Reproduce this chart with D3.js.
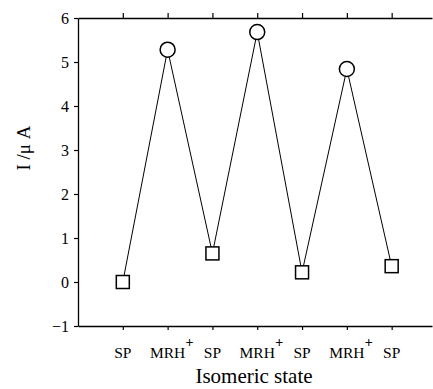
<!DOCTYPE html>
<html>
<head>
<meta charset="utf-8">
<script src="https://cdn.jsdelivr.net/npm/d3@7"></script>
<style>
body { margin: 0; background: #fff; }
svg { display: block; }
svg text { font-family: "Liberation Serif", "Times New Roman", serif; }
</style>
</head>
<body>
<div class="graphic"></div>
<script>
// isomeric states along x, and the measured current
var states = ["SP", "MRH+", "SP", "MRH+", "SP", "MRH+", "SP"]
var current = [0.0, 5.28, 0.65, 5.68, 0.22, 4.84, 0.36]
var yTicks = [-1, 0, 1, 2, 3, 4, 5, 6]

var svg_width = 433, svg_height = 389

var svg = d3.select(".graphic")
	.append("svg")
	.attr("width", svg_width)
	.attr("height", svg_height)

var x = d3.scaleLinear().domain([-1, 6.9]).range([78, 432])
var y = d3.scaleLinear().domain([-1, 6]).range([326, 18])

var idx = d3.range(states.length)

// left axis
var yAxis = svg.append("g")
	.attr("transform", "translate(78,0)")
	.call(d3.axisLeft(y).tickValues(yTicks).tickFormat(d3.format("d"))
		.tickSize(4).tickSizeOuter(0).tickPadding(5))
yAxis.attr("font-family", null)
yAxis.selectAll("text")
	.style("font-size", "16px")
	.attr("fill", "#000")

// bottom axis, labels drawn separately
svg.append("g")
	.attr("transform", "translate(0,326)")
	.call(d3.axisBottom(x).tickValues(idx).tickSize(4).tickSizeOuter(0).tickFormat(""))

// top axis
svg.append("g")
	.attr("transform", "translate(0,18)")
	.call(d3.axisTop(x).tickValues(idx).tickSize(5).tickSizeOuter(0).tickFormat(""))

svg.selectAll(".domain").attr("stroke", "#000").attr("stroke-width", 1.3)
svg.selectAll(".tick line").attr("stroke", "#000").attr("stroke-width", 1.2)

// x tick labels
svg.append("g").selectAll("text")
	.data(idx)
	.enter()
	.append("text")
	.attr("x", function(i){ return x(i) })
	.attr("y", 358)
	.attr("text-anchor", "middle")
	.style("font-size", "15.5px")
	.text(function(i){ return states[i].replace("+", "") })
svg.append("g").selectAll("text")
	.data(idx.filter(function(i){ return states[i].indexOf("+") >= 0 }))
	.enter()
	.append("text")
	.attr("x", function(i){ return x(i) + 18 })
	.attr("y", 347)
	.style("font-size", "14px")
	.style("font-weight", "bold")
	.text("+")

// axis titles
svg.append("text")
	.attr("x", 254)
	.attr("y", 383)
	.attr("text-anchor", "middle")
	.style("font-size", "21px")
	.text("Isomeric state")

svg.append("text")
	.attr("transform", "translate(30,148) rotate(-90)")
	.attr("text-anchor", "middle")
	.style("font-size", "19px")
	.text("I /\u03bc A")

// connecting line
var line = d3.line()
	.x(function(i){ return x(i) })
	.y(function(i){ return y(current[i]) })
svg.append("path")
	.datum(idx)
	.attr("d", line)
	.attr("fill", "none")
	.attr("stroke", "#000")
	.attr("stroke-width", 1)

// markers
svg.selectAll("circle")
	.data(idx.filter(function(i){ return states[i] != "SP" }))
	.enter()
	.append("circle")
	.attr("cx", function(i){ return x(i) })
	.attr("cy", function(i){ return y(current[i]) })
	.attr("r", 7.5)
	.attr("fill", "#fff")
	.attr("stroke", "#000")
	.attr("stroke-width", 1.5)

svg.selectAll("rect.mk")
	.data(idx.filter(function(i){ return states[i] == "SP" }))
	.enter()
	.append("rect")
	.attr("class", "mk")
	.attr("x", function(i){ return x(i) - 6.5 })
	.attr("y", function(i){ return y(current[i]) - 6.5 })
	.attr("width", 13)
	.attr("height", 13)
	.attr("fill", "#fff")
	.attr("stroke", "#000")
	.attr("stroke-width", 1.5)
</script>
</body>
</html>
